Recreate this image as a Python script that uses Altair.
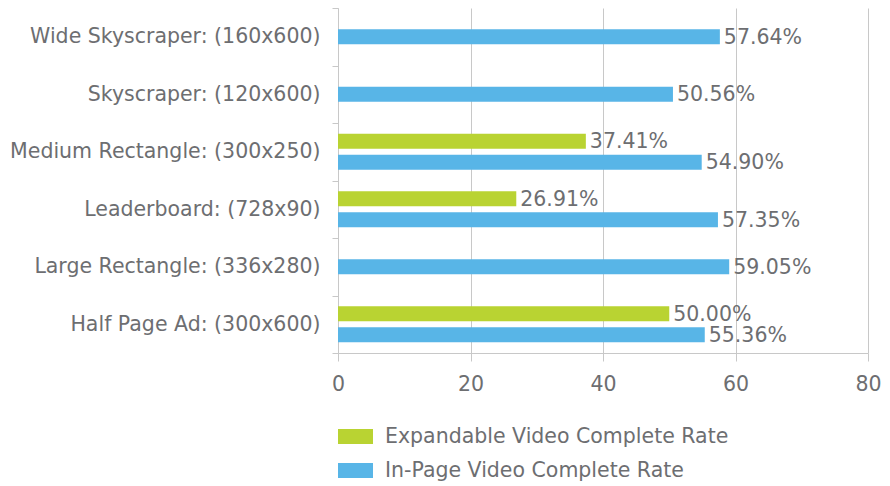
import altair as alt
import pandas as pd

categories = [
    "Wide Skyscraper: (160x600)",
    "Skyscraper: (120x600)",
    "Medium Rectangle: (300x250)",
    "Leaderboard: (728x90)",
    "Large Rectangle: (336x280)",
    "Half Page Ad: (300x600)",
]
expandable = [None, None, 37.41, 26.91, None, 50.00]
in_page = [57.64, 50.56, 54.90, 57.35, 59.05, 55.36]
series_names = ["Expandable Video Complete Rate", "In-Page Video Complete Rate"]
x_ticks = [0, 20, 40, 60, 80]

rows = []
for cat, e, p in zip(categories, expandable, in_page):
    both = e is not None and p is not None
    if e is not None:
        rows.append({"cat": cat, "series": series_names[0], "value": e, "slot": "a" if both else "b"})
    if p is not None:
        rows.append({"cat": cat, "series": series_names[1], "value": p, "slot": "c" if both else "b"})
df = pd.DataFrame(rows)

FONT = "DejaVu Sans"
TXT = "#6d6e71"
LINE = "#c8c8c8"
FS = 20.5

y_enc = alt.Y("cat:N", sort=categories, title=None,
              scale=alt.Scale(paddingInner=0, paddingOuter=0),
              axis=alt.Axis(labelFont=FONT, labelFontSize=FS, labelColor=TXT,
                            domainColor=LINE, tickColor=LINE, tickSize=6,
                            tickBand="extent", labelPadding=12, grid=False,
                            labelLimit=400))
yoff = alt.YOffset("slot:N", scale=alt.Scale(domain=["_0", "a", "b", "c", "_4"], paddingInner=0, paddingOuter=0.25))
x_enc = alt.X("value:Q", title=None,
              scale=alt.Scale(domain=[0, 80], nice=False),
              axis=alt.Axis(values=x_ticks, labelFont=FONT, labelFontSize=FS, labelColor=TXT,
                            domainColor=LINE, tickColor=LINE, tickSize=8, gridColor=LINE,
                            labelPadding=13, labelFlush=False, format="d"))

base = alt.Chart(df)
bars = base.mark_bar(height=15).encode(
    y=y_enc, yOffset=yoff, x=x_enc,
    color=alt.Color("series:N", scale=alt.Scale(domain=series_names, range=["#b9d332", "#58b5e7"]),
                    legend=alt.Legend(title=None, orient="none", legendX=0, legendY=411,
                                      direction="vertical",
                                      symbolType="M-1,-0.43H1V0.43H-1Z", symbolSize=1225,
                                      symbolStrokeWidth=0, symbolOpacity=1,
                                      labelFont=FONT, labelFontSize=FS, labelColor=TXT,
                                      labelOffset=12, rowPadding=6, padding=0, labelLimit=500)),
)
labels = base.mark_text(align="left", baseline="middle", dx=4, dy=1, font=FONT, fontSize=FS, color=TXT).encode(
    y=alt.Y("cat:N", sort=categories), yOffset=yoff, x="value:Q",
    text="label:N",
).transform_calculate(label="format(datum.value, '.2f') + '%'")

chart = (bars + labels).properties(
    width=530, height=345,
    autosize=alt.AutoSizeParams(type="none"),
    padding={"left": 338, "top": 8, "right": 22, "bottom": 133},
).configure_view(stroke=None).configure_axisY(grid=False)

chart.save("out.html", embed_options={"renderer": "svg", "actions": False})
